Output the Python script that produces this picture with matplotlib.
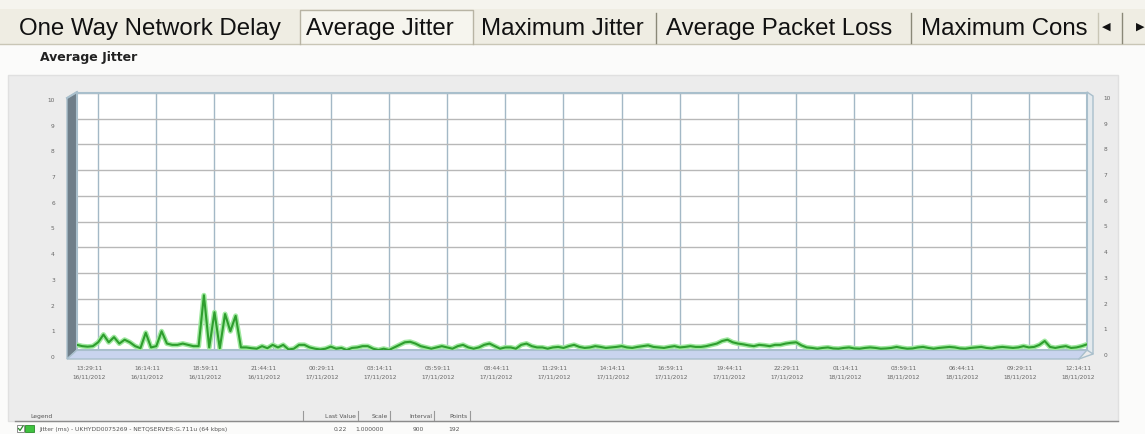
import matplotlib
matplotlib.use("Agg")
import matplotlib.pyplot as plt
import matplotlib.dates as mdates
from matplotlib.patches import Rectangle, Polygon
from matplotlib.transforms import ScaledTranslation
import pandas as pd

W, H = 1145, 435

# ---------------- data ----------------
tab_labels = ["One Way Network Delay", "Average Jitter", "Maximum Jitter",
              "Average Packet Loss", "Maximum Cons"]
selected_tab = 1
chart_title = "Average Jitter"
series_name = "Jitter (ms) - UKHYDD0075269 - NETQSERVER:G.711u (64 kbps)"
start_time = "2012-11-16 12:29:11"
interval_seconds = 900
jitter_ms = [
    0.20, 0.15, 0.13, 0.15, 0.30, 0.60, 0.30, 0.50, 0.25, 0.40,
    0.30, 0.15, 0.07, 0.67, 0.10, 0.15, 0.73, 0.25, 0.20, 0.20,
    0.25, 0.20, 0.15, 0.15, 2.13, 0.10, 1.47, 0.07, 1.40, 0.73,
    1.33, 0.10, 0.10, 0.07, 0.05, 0.15, 0.07, 0.20, 0.10, 0.20,
    0.02, 0.05, 0.20, 0.20, 0.10, 0.05, 0.02, 0.05, 0.13, 0.05,
    0.08, 0.00, 0.08, 0.10, 0.15, 0.15, 0.05, 0.00, 0.05, 0.00,
    0.10, 0.20, 0.30, 0.32, 0.25, 0.15, 0.10, 0.05, 0.10, 0.15,
    0.10, 0.05, 0.15, 0.20, 0.10, 0.05, 0.10, 0.20, 0.25, 0.15,
    0.05, 0.10, 0.10, 0.05, 0.20, 0.25, 0.15, 0.10, 0.10, 0.05,
    0.10, 0.12, 0.08, 0.15, 0.20, 0.12, 0.08, 0.10, 0.15, 0.12,
    0.08, 0.10, 0.12, 0.15, 0.10, 0.08, 0.12, 0.15, 0.18, 0.12,
    0.10, 0.08, 0.12, 0.15, 0.10, 0.12, 0.15, 0.12, 0.12, 0.15,
    0.20, 0.25, 0.35, 0.40, 0.30, 0.25, 0.22, 0.18, 0.15, 0.20,
    0.18, 0.15, 0.20, 0.20, 0.25, 0.28, 0.30, 0.18, 0.10, 0.08,
    0.05, 0.08, 0.10, 0.06, 0.05, 0.08, 0.10, 0.06, 0.05, 0.08,
    0.10, 0.08, 0.05, 0.06, 0.08, 0.12, 0.08, 0.05, 0.06, 0.10,
    0.12, 0.08, 0.05, 0.08, 0.10, 0.12, 0.10, 0.06, 0.05, 0.08,
    0.10, 0.12, 0.08, 0.06, 0.10, 0.12, 0.10, 0.08, 0.10, 0.15,
    0.10, 0.12, 0.20, 0.35, 0.12, 0.08, 0.12, 0.15, 0.08, 0.10,
    0.15, 0.22,
]
y_ticks = list(range(0, 11))
x_tick_start = "2012-11-16 13:29:11"
x_tick_step = "165min"
n_x_ticks = 18
legend_headers = ["Last Value", "Scale", "Interval", "Points"]
legend_values = ["0.22", "1.000000", "900", "192"]

times = pd.date_range(start_time, periods=len(jitter_ms), freq=f"{interval_seconds}s")
tick_times = pd.date_range(x_tick_start, periods=n_x_ticks, freq=x_tick_step)

# ---------------- figure ----------------
fig = plt.figure(figsize=(W / 100, H / 100), dpi=100)
fig.patch.set_facecolor("#fbfbfa")


def rect_px(x0, y0, x1, y1):
    return [x0 / W, 1 - y1 / H, (x1 - x0) / W, (y1 - y0) / H]


bg = fig.add_axes([0, 0, 1, 1])
bg.set_xlim(0, W)
bg.set_ylim(H, 0)
bg.axis("off")
bg.set_zorder(0)

# tab strip
bg.add_patch(Rectangle((0, 0), W, 45, facecolor="#efede3", edgecolor="none"))
bg.add_patch(Rectangle((0, 0), W, 10, facecolor="#f5f4ee", edgecolor="none"))
bg.plot([0, W], [45, 45], color="#c9c6b6", lw=1)
bg.add_patch(Rectangle((300, 11), 173, 35, facecolor="#f6f5ee", edgecolor="none"))
bg.plot([300, 300, 473, 473], [45, 11, 11, 45], color="#b8b4a4", lw=1)
for sx in [656, 911, 1122]:
    bg.plot([sx, sx], [14, 44], color="#8a8878", lw=1)
bg.plot([1098, 1098], [14, 44], color="#c9c6b6", lw=1)
tab_x = [19, 306, 481, 666, 921]
for i, (tx, lab) in enumerate(zip(tab_x, tab_labels)):
    bg.text(tx, 29, lab, fontsize=17.3, family="Liberation Sans",
            color="#111111", va="center", ha="left")
bg.text(1106, 27, "\u25C0", fontsize=8, color="#111111", ha="center", va="center")
bg.text(1140, 27, "\u25B6", fontsize=8, color="#111111", ha="center", va="center")

# chart title
bg.text(40, 58, chart_title, fontsize=9, fontweight="bold", family="DejaVu Sans",
        color="#222222", va="center", ha="left")

# grey panel
bg.add_patch(Rectangle((8, 76), 1110, 346, facecolor="#ececec", edgecolor="#e0e0e0", lw=1))
bg.plot([15, 1118], [422, 422], color="#8c8c8c", lw=1)

# 3D decorations (left wall, floor, right wall)
bg.add_patch(Polygon([(67, 99), (77, 93), (77, 351), (67, 360)], closed=True,
                     facecolor="#6f7e89", edgecolor="#a9bfcc", lw=1, zorder=2))
bg.add_patch(Polygon([(67, 360), (77, 351), (1087, 351), (1079, 360)], closed=True,
                     facecolor="#c9d4ee", edgecolor="#a9bfcc", lw=1, zorder=2))
bg.add_patch(Polygon([(1087, 93), (1093, 97), (1093, 355), (1087, 351)], closed=True,
                     facecolor="#e4eaee", edgecolor="#a9bfcc", lw=1, zorder=2))
bg.plot([1079, 1093], [360, 355], color="#a9bfcc", lw=1)
bg.plot([67, 77], [99, 93], color="#a9bfcc", lw=1.5)

# legend area
bg.text(30, 417, "Legend", fontsize=4.3, color="#555555", va="center", ha="left")
bg.plot([303, 303], [412, 421], color="#999999", lw=0.8)
header_right = [358, 390, 434, 470]
for hx, hd in zip(header_right, legend_headers):
    bg.text(hx - 2, 417, hd, fontsize=4.3, color="#555555", va="center", ha="right")
    bg.plot([hx, hx], [412, 421], color="#999999", lw=0.8)
value_right = [347, 384, 424, 460]
for vx, vv in zip(value_right, legend_values):
    bg.text(vx, 430, vv, fontsize=4.3, color="#555555", va="center", ha="right")
bg.add_patch(Rectangle((17, 426), 7, 7, facecolor="white", edgecolor="#7a7a7a", lw=0.6))
bg.plot([18.5, 20, 23], [429.5, 431.5, 427], color="#2a8a2a", lw=0.9)
bg.add_patch(Rectangle((25, 426), 9, 7, facecolor="#3fc23f", edgecolor="#2a8a2a", lw=0.6))
bg.text(39, 430, series_name, fontsize=4.3, color="#555555", va="center", ha="left")

# ---------------- main plot ----------------
ax = fig.add_axes(rect_px(77, 94, 1087, 351))
ax.set_zorder(3)
ax.set_facecolor("white")
ax.set_xlim(times[0], times[-1])
ax.set_ylim(0, 10)
ax.set_yticks(y_ticks)
ax.set_xticks(tick_times)
ax.set_xticklabels([t.strftime("%H:%M:%S\n%d/%m/%Y") for t in tick_times],
                   fontsize=4.2, color="#666666", linespacing=1.9)
ax.set_yticklabels([str(v) for v in y_ticks], fontsize=4.2, color="#666666")
ax.tick_params(axis="x", length=0, pad=11)
ax.tick_params(axis="y", length=0, pad=16)
ax.grid(axis="x", color="#a3b8c6", lw=1)
ax.grid(axis="y", color="#b8b8b8", lw=1)
for sp in ax.spines.values():
    sp.set_color("#a9bfcc")
    sp.set_linewidth(1.5)

for lab in ax.get_xticklabels():
    lab.set_transform(lab.get_transform() + ScaledTranslation(-0.09, 0, fig.dpi_scale_trans))
for lab in ax.get_yticklabels():
    lab.set_transform(lab.get_transform() + ScaledTranslation(0, -0.06, fig.dpi_scale_trans))

ax.plot(times, jitter_ms, color="#9fe89f", lw=3.6, solid_joinstyle="round", zorder=3)
ax.plot(times, jitter_ms, color="#2e9e2e", lw=1.5, solid_joinstyle="round", zorder=4)

ax2 = ax.twinx()
ax2.set_ylim(0, 10)
ax2.set_yticks(y_ticks)
ax2.set_yticklabels([str(v) for v in y_ticks], fontsize=4.2, color="#666666")
ax2.tick_params(axis="y", length=0, pad=12)
for sp in ax2.spines.values():
    sp.set_visible(False)
for lab in ax2.get_yticklabels():
    lab.set_transform(lab.get_transform() + ScaledTranslation(0, -0.04, fig.dpi_scale_trans))

fig.savefig("out.png", dpi=100, facecolor=fig.get_facecolor())
